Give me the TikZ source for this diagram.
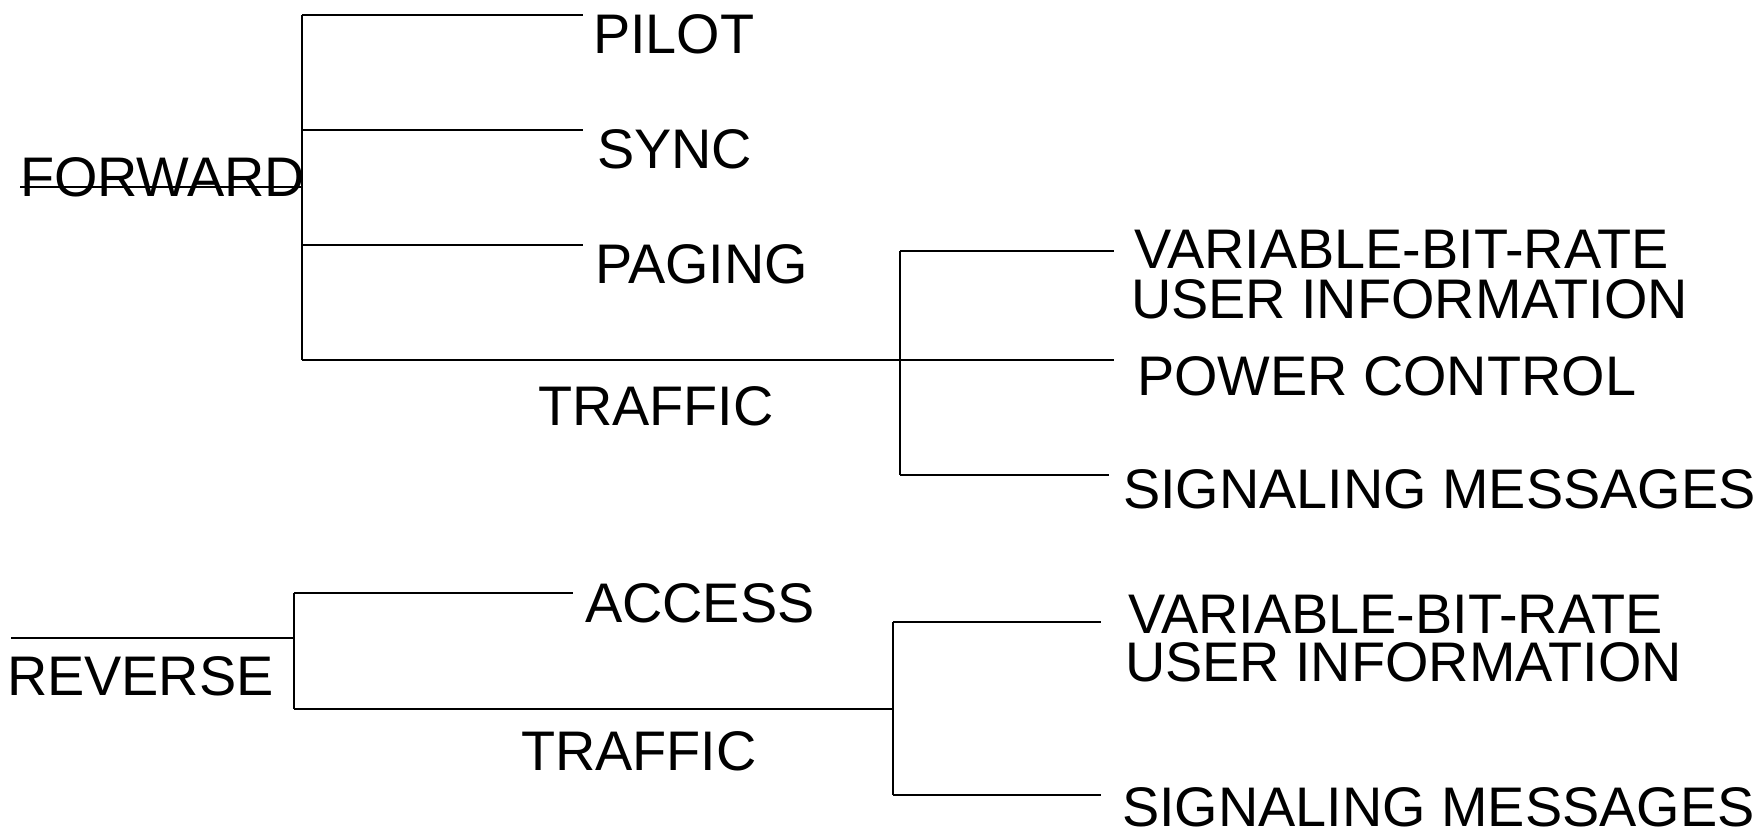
\documentclass[tikz,border=0pt]{standalone}
\usepackage{fontspec}
\setmainfont{Liberation Sans}
\begin{document}
\begin{tikzpicture}[x=0.5pt,y=-0.5pt,
  link/.style={line width=1pt, line cap=butt},
  lbl/.style={anchor=base west, inner sep=0pt, outer sep=0pt,
    font=\fontsize{27.9pt}{25pt}\selectfont}]
\useasboundingbox (0,0) rectangle (1762,829);

% ---------- forward channels ----------
\coordinate (fwdTop) at (302,15);
\coordinate (fwdSync) at (302,129.7);
\coordinate (fwdPaging) at (302,245);
\coordinate (fwdBottom) at (302,360);
\coordinate (pilotEnd) at (583,15);
\coordinate (syncEnd) at (583,129.7);
\coordinate (pagingEnd) at (583,245);
\coordinate (fwdStrikeStart) at (20,187);
\coordinate (fwdStrikeEnd) at (302,187);
\coordinate (ftTop) at (900,250.7);
\coordinate (ftMid) at (900,360);
\coordinate (ftBottom) at (900,475);
\coordinate (fvbrEnd) at (1114,250.7);
\coordinate (powerEnd) at (1114,360);
\coordinate (fsigEnd) at (1109,475);

\node[lbl] (forward) at (20,196.7) {FORWARD};
\node[lbl] (pilot) at (593,53.3) {PILOT};
\node[lbl] (sync) at (597,168.3) {SYNC};
\node[lbl] (paging) at (595,283.3) {PAGING};
\node[lbl] (ftraffic) at (538,425) {TRAFFIC};
\node[lbl] (fvbrA) at (1134,268) {VARIABLE-BIT-RATE};
\node[lbl] (fvbrB) at (1131,318) {USER INFORMATION};
\node[lbl] (power) at (1137,395) {POWER CONTROL};
\node[lbl] (fsig) at (1123,508) {SIGNALING MESSAGES};

\draw[link] (fwdStrikeStart) -- (fwdStrikeEnd);
\draw[link] (fwdTop) -- (fwdBottom);
\draw[link] (fwdTop) -- (pilotEnd);
\draw[link] (fwdSync) -- (syncEnd);
\draw[link] (fwdPaging) -- (pagingEnd);
\draw[link] (fwdBottom) -- (ftMid) -- (powerEnd);
\draw[link] (ftTop) -- (ftBottom);
\draw[link] (ftTop) -- (fvbrEnd);
\draw[link] (ftBottom) -- (fsigEnd);

% ---------- reverse channels ----------
\coordinate (revStart) at (11,638.3);
\coordinate (revTop) at (294,592.7);
\coordinate (revJoin) at (294,638.3);
\coordinate (revBottom) at (294,709.3);
\coordinate (accessEnd) at (573,592.7);
\coordinate (rtTop) at (893,621.7);
\coordinate (rtJoin) at (893,709.3);
\coordinate (rtBottom) at (893,795);
\coordinate (rvbrEnd) at (1101,621.7);
\coordinate (rsigEnd) at (1101,795);

\node[lbl] (reverse) at (7,695) {REVERSE};
\node[lbl] (access) at (585,622) {ACCESS};
\node[lbl] (rtraffic) at (521,770) {TRAFFIC};
\node[lbl] (rvbrA) at (1128,633.3) {VARIABLE-BIT-RATE};
\node[lbl] (rvbrB) at (1125,681.7) {USER INFORMATION};
\node[lbl] (rsig) at (1122,826.7) {SIGNALING MESSAGES};

\draw[link] (revStart) -- (revJoin);
\draw[link] (revTop) -- (revBottom);
\draw[link] (revTop) -- (accessEnd);
\draw[link] (revBottom) -- (rtJoin);
\draw[link] (rtTop) -- (rtBottom);
\draw[link] (rtTop) -- (rvbrEnd);
\draw[link] (rtBottom) -- (rsigEnd);
\end{tikzpicture}
\end{document}
